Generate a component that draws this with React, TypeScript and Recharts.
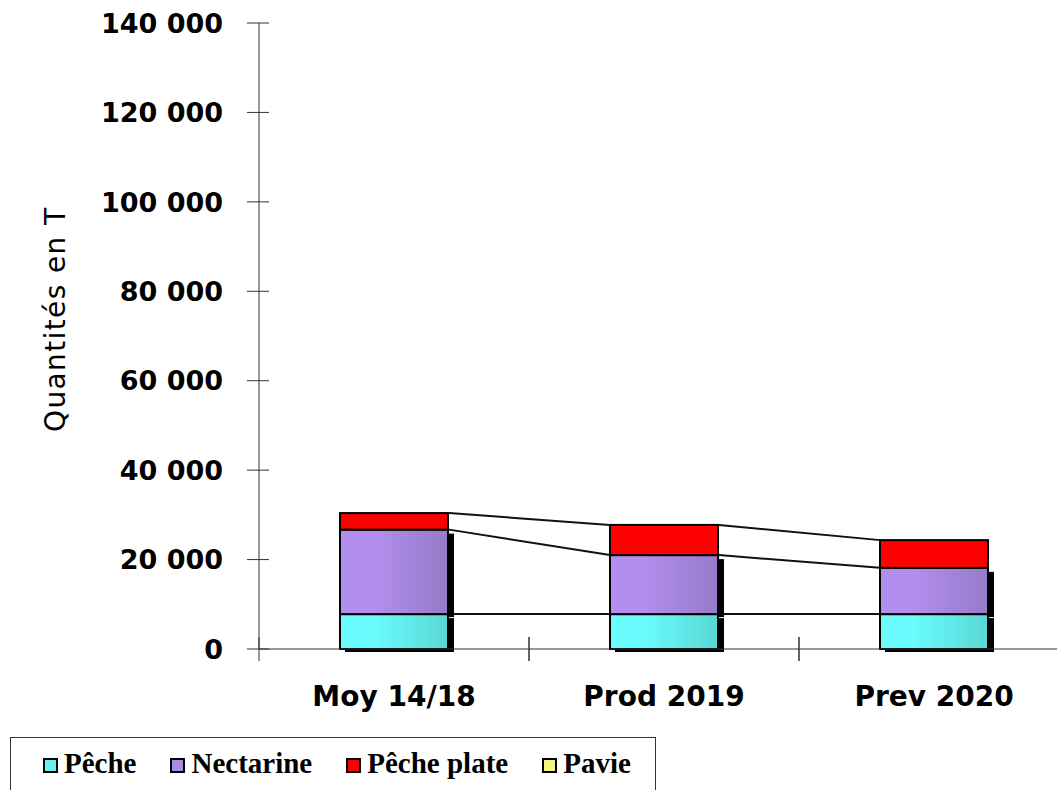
import React from 'react';
import { BarChart, Bar, XAxis, YAxis } from 'recharts';

const categories = ['Moy 14/18', 'Prod 2019', 'Prev 2020'];
const pecheValues = [7800, 7800, 7800];
const nectarineValues = [18900, 13200, 10350];
const pechePlateValues = [3700, 6750, 6200];
const pavieValues = [0, 0, 0];
const yTicks = [0, 20000, 40000, 60000, 80000, 100000, 120000, 140000];
const yTitle = 'Quantités en T';

type Series = {
  key: string;
  name: string;
  values: number[];
  light: string;
  dark: string;
  legend: string;
  shadow: boolean;
  base: boolean;
  seriesLine: boolean;
};

const seriesList: Series[] = [
  { key: 'peche', name: 'Pêche', values: pecheValues, light: '#6AFCFC', dark: '#5AD6D6', legend: '#66F0F0', shadow: true, base: true, seriesLine: true },
  { key: 'nectarine', name: 'Nectarine', values: nectarineValues, light: '#B28FEE', dark: '#977AC9', legend: '#A88AE2', shadow: true, base: false, seriesLine: true },
  { key: 'plate', name: 'Pêche plate', values: pechePlateValues, light: '#FF0000', dark: '#FF0000', legend: '#FF0000', shadow: false, base: false, seriesLine: true },
  { key: 'pavie', name: 'Pavie', values: pavieValues, light: '#FFFF80', dark: '#FFFF80', legend: '#F4F480', shadow: false, base: false, seriesLine: false },
];

const data = categories.map((c, i) => {
  const row: Record<string, string | number> = { category: c };
  seriesList.forEach((s) => {
    row[s.key] = s.values[i];
  });
  return row;
});

const fmt = (n: number) => String(n).replace(/\B(?=(\d{3})+(?!\d))/g, ' ');

const AXIS_FONT = '"DejaVu Sans", Verdana, sans-serif';

const YTick = (props: any) => {
  const { x, y, payload } = props;
  return (
    <g>
      <line x1={x - 12} x2={x + 10} y1={y} y2={y} stroke="#333" strokeWidth={1} />
      <text
        x={x - 36}
        y={y}
        dy="0.36em"
        textAnchor="end"
        fontFamily={AXIS_FONT}
        fontWeight="bold"
        fontSize={27}
        fill="#000"
      >
        {fmt(payload.value)}
      </text>
    </g>
  );
};

const XTick = (props: any) => {
  const { x, y, payload } = props;
  const half = payload && payload.offset ? payload.offset : 0;
  return (
    <g>
      <line x1={x - half} x2={x - half} y1={y - 12} y2={y + 12} stroke="#333" strokeWidth={1} />
      <line x1={x + half} x2={x + half} y1={y - 12} y2={y + 12} stroke="#333" strokeWidth={1} />
      <text
        x={x}
        y={y + 57}
        textAnchor="middle"
        fontFamily={AXIS_FONT}
        fontWeight="bold"
        fontSize={28}
        fill="#000"
      >
        {payload.value}
      </text>
    </g>
  );
};

const renderTitle = (props: any) => {
  const vb = props.viewBox || { x: 159, y: 23, width: 100, height: 626 };
  const tx = vb.x - 94;
  const ty = vb.y + vb.height / 2 - 16;
  return (
    <text
      x={tx}
      y={ty}
      transform={`rotate(-90, ${tx}, ${ty})`}
      textAnchor="middle"
      fontFamily={AXIS_FONT}
      fontSize={28}
      fill="#000"
      textLength={224}
      lengthAdjust="spacing"
    >
      {yTitle}
    </text>
  );
};

export default function App() {
  const store: Record<string, { x: number; y: number; width: number }[]> = {};

  const makeShape = (s: Series) => (props: any) => {
    const { x, y, width, height, index } = props;
    if (x == null || y == null || width == null || height == null) return <g />;
    const list = store[s.key] || (store[s.key] = []);
    list[index] = { x, y, width };
    const prev = index > 0 ? list[index - 1] : null;
    const fill = s.light === s.dark ? s.light : `url(#grad-${s.key})`;
    return (
      <g>
        {prev && s.seriesLine && (
          <line x1={prev.x + prev.width + 1} y1={prev.y} x2={x} y2={y} stroke="#111" strokeWidth={2} />
        )}
        {s.shadow && height > 0 && (
          <rect x={x + width} y={y + 4} width={6} height={height - 1} fill="#000" />
        )}
        {s.base && height > 0 && (
          <rect x={x + 5} y={y + height} width={width + 1} height={3} fill="#000" />
        )}
        {height > 0 && (
          <rect x={x} y={y} width={width} height={height} fill={fill} stroke="#000" strokeWidth={2} />
        )}
      </g>
    );
  };

  return (
    <div
      style={{
        position: 'absolute',
        left: 0,
        top: 0,
        width: 1057,
        height: 790,
        overflow: 'hidden',
        background: '#fff',
      }}
    >
      <BarChart
        width={1080}
        height={790}
        data={data}
        margin={{ top: 23, right: 11, bottom: 81, left: 159 }}
        barCategoryGap="30%"
      >
        <defs>
          {seriesList
            .filter((s) => s.light !== s.dark)
            .map((s) => (
              <linearGradient key={s.key} id={`grad-${s.key}`} x1="0" y1="0" x2="1" y2="0">
                <stop offset="0%" stopColor={s.light} />
                <stop offset="30%" stopColor={s.light} />
                <stop offset="100%" stopColor={s.dark} />
              </linearGradient>
            ))}
        </defs>
        <XAxis
          dataKey="category"
          height={60}
          tickSize={0}
          tickMargin={0}
          tickLine={false}
          axisLine={{ stroke: '#333', strokeWidth: 1 }}
          tick={<XTick />}
          interval={0}
        />
        <YAxis
          width={100}
          domain={[0, 140000]}
          ticks={yTicks}
          tickSize={0}
          tickMargin={0}
          tickLine={false}
          axisLine={{ stroke: '#333', strokeWidth: 1 }}
          tick={<YTick />}
          interval={0}
          label={{ content: renderTitle }}
        />
        {seriesList.map((s) => (
          <Bar
            key={s.key}
            dataKey={s.key}
            name={s.name}
            stackId="a"
            fill={s.light}
            isAnimationActive={false}
            shape={makeShape(s)}
          />
        ))}
      </BarChart>
      <div
        style={{
          position: 'absolute',
          left: 10,
          top: 737,
          width: 646,
          height: 80,
          border: '1px solid #333',
          background: '#fff',
          boxSizing: 'border-box',
        }}
      >
        <div
          style={{
            position: 'absolute',
            left: 32,
            top: 10,
            whiteSpace: 'nowrap',
            fontFamily: '"Liberation Serif", "Times New Roman", serif',
            fontWeight: 'bold',
            fontSize: 29,
            lineHeight: '31px',
            color: '#000',
          }}
        >
          {seriesList.map((s, i) => (
            <span key={s.key} style={{ marginLeft: i === 0 ? 0 : 34 }}>
              <span
                style={{
                  display: 'inline-block',
                  width: 11,
                  height: 11,
                  border: '2px solid #000',
                  background: s.legend,
                  verticalAlign: 'baseline',
                  marginRight: 6,
                }}
              />
              {s.name}
            </span>
          ))}
        </div>
      </div>
    </div>
  );
}
